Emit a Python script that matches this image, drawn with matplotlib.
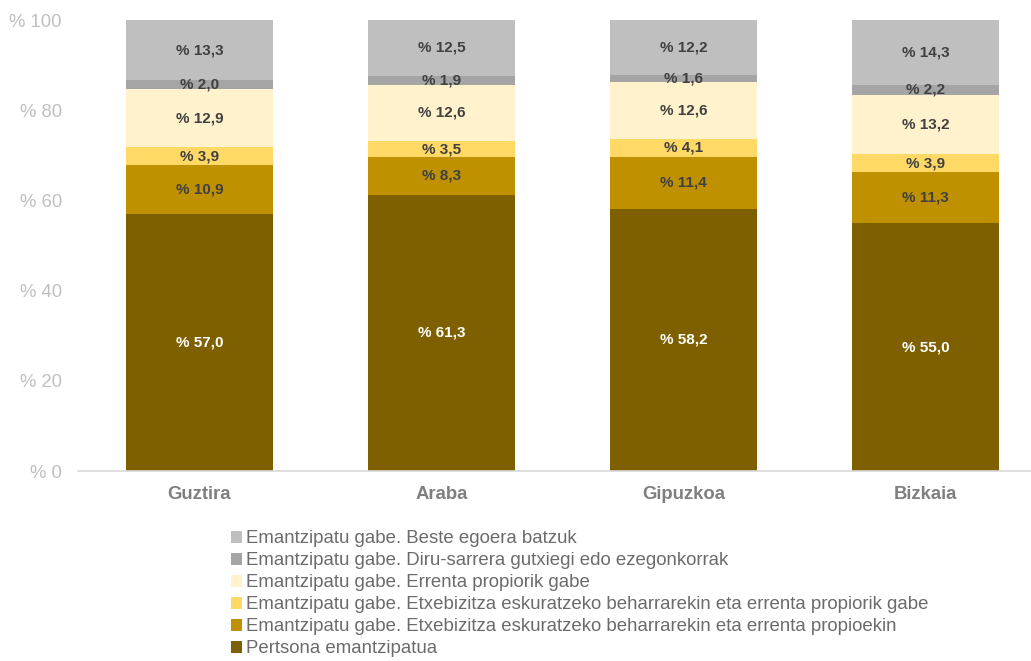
import numpy as np
import matplotlib.pyplot as plt
from matplotlib.patches import Patch

plt.rcParams["font.family"] = ["Liberation Sans", "DejaVu Sans"]

categories = ["Guztira", "Araba", "Gipuzkoa", "Bizkaia"]
series_names = [
    "Pertsona emantzipatua",
    "Emantzipatu gabe. Etxebizitza eskuratzeko beharrarekin eta errenta propioekin",
    "Emantzipatu gabe. Etxebizitza eskuratzeko beharrarekin eta errenta propiorik gabe",
    "Emantzipatu gabe. Errenta propiorik gabe",
    "Emantzipatu gabe. Diru-sarrera gutxiegi edo ezegonkorrak",
    "Emantzipatu gabe. Beste egoera batzuk",
]
emantzipatua = [57.0, 61.3, 58.2, 55.0]
etx_propioekin = [10.9, 8.3, 11.4, 11.3]
etx_propiorik_gabe = [3.9, 3.5, 4.1, 3.9]
errenta_gabe = [12.9, 12.6, 12.6, 13.2]
diru_sarrera = [2.0, 1.9, 1.6, 2.2]
beste = [13.3, 12.5, 12.2, 14.3]
yticks = [0, 20, 40, 60, 80, 100]

values = [emantzipatua, etx_propioekin, etx_propiorik_gabe, errenta_gabe, diru_sarrera, beste]
colors = ["#7F6000", "#BF9000", "#FFD966", "#FFF2CC", "#A5A5A5", "#BFBFBF"]
label_colors = ["white", "#404040", "#404040", "#404040", "#404040", "#404040"]

fig = plt.figure(figsize=(10.31, 6.61), dpi=100)
ax = fig.add_axes([0.0761, 0.2874, 0.939, 0.6823])

x = np.arange(len(categories))
bottom = np.zeros(len(categories))
for vals, col, lc in zip(values, colors, label_colors):
    vals = np.array(vals)
    ax.bar(x, vals, width=0.607, bottom=bottom, color=col, edgecolor="none")
    for xi, b, v in zip(x, bottom, vals):
        ax.text(xi, b + v / 2, "% " + f"{v:.1f}".replace(".", ","), ha="center", va="center",
                fontsize=11, fontweight="bold", color=lc)
    bottom += vals

ax.set_xlim(-0.5, 3.5)
ax.set_ylim(0, 100)
ax.set_yticks(yticks)
ax.set_yticklabels([f"% {t}" for t in yticks], fontsize=13.3, color="#BFBFBF")
ax.set_xticks(x)
ax.set_xticklabels(categories, fontsize=13.3, fontweight="bold", color="#7F7F7F")
ax.tick_params(axis="both", length=0)
ax.tick_params(axis="y", pad=12)
ax.tick_params(axis="x", pad=11)
for side in ["top", "right", "left"]:
    ax.spines[side].set_visible(False)
ax.spines["bottom"].set_color("#D9D9D9")
ax.spines["bottom"].set_linewidth(1.2)

handles = [Patch(facecolor=c, edgecolor="none") for c in colors][::-1]
fig.legend(handles, series_names[::-1], loc="upper left", bbox_to_anchor=(0.224, 0.198),
           frameon=False, fontsize=13.4, labelcolor="#6B6B6B", handlelength=0.62,
           handleheight=0.62, handletextpad=0.2, labelspacing=0.27, borderpad=0, borderaxespad=0)

fig.savefig("out.png", dpi=100)
